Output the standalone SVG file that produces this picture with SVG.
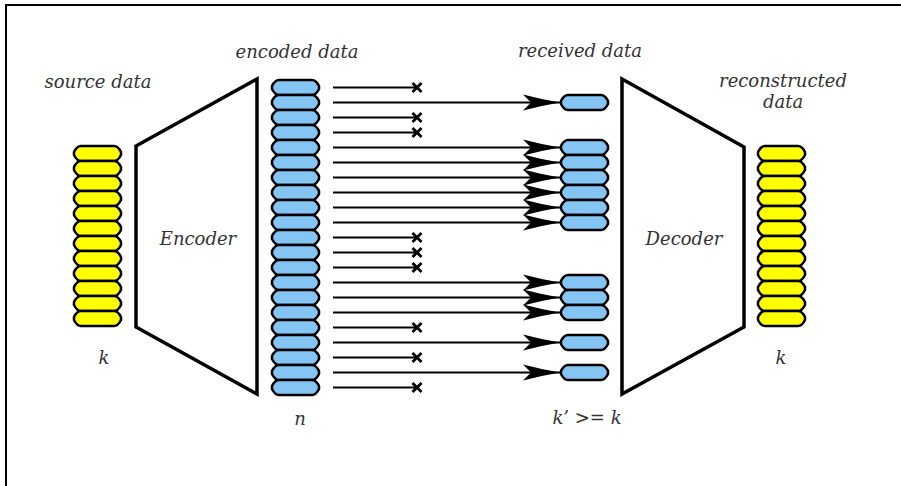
<svg xmlns="http://www.w3.org/2000/svg" xmlns:xlink="http://www.w3.org/1999/xlink" width="901" height="486" viewBox="0 0 901 486">
<style>
  .lbl { font-family: "DejaVu Serif", "Liberation Serif", serif; font-style: italic; font-size: 18px; fill: #333333; text-anchor: middle; }
  .box { fill: #ffffff; stroke: #000000; stroke-width: 3.5; stroke-linejoin: miter; }
  .blue { fill: #85c5f3; stroke: #000000; stroke-width: 2.5; stroke-linejoin: round; }
  .yellow { fill: #ffff00; stroke: #000000; stroke-width: 2.5; stroke-linejoin: round; }
  .lost { stroke: #000000; stroke-width: 2; fill: none; marker-end: url(#cross); }
  .ok { stroke: #000000; stroke-width: 2; fill: none; marker-end: url(#head); }
  .frame { stroke: #000000; stroke-width: 2; fill: none; }
</style>
<defs>
  <path id="cell" d="M7,0 H40 Q44,0 47,6 V9 Q44,15 40,15 H7 Q3,15 0,9 V6 Q3,0 7,0 Z"/>
  <marker id="head" markerUnits="userSpaceOnUse" markerWidth="40" markerHeight="20" refX="38" refY="10" orient="auto" overflow="visible">
    <path d="M38,10 Q20,7 1,2 L9,10 L1,18 Q20,13 38,10 Z" fill="#000000"/>
  </marker>
  <marker id="cross" markerUnits="userSpaceOnUse" markerWidth="14" markerHeight="14" refX="7" refY="7" orient="auto" overflow="visible">
    <path d="M2.5,2.5 L11.5,11.5 M11.5,2.5 L2.5,11.5" stroke="#000000" stroke-width="2.8" fill="none"/>
  </marker>
</defs>
<rect x="0" y="0" width="901" height="486" fill="#ffffff"/>
<path class="frame" d="M6,486 V5 H901"/>

<g id="source-data">
  <text class="lbl" x="98" y="88">source data</text>
  <use href="#cell" class="yellow" x="74" y="146"/>
  <use href="#cell" class="yellow" x="74" y="161"/>
  <use href="#cell" class="yellow" x="74" y="176"/>
  <use href="#cell" class="yellow" x="74" y="191"/>
  <use href="#cell" class="yellow" x="74" y="206"/>
  <use href="#cell" class="yellow" x="74" y="221"/>
  <use href="#cell" class="yellow" x="74" y="236"/>
  <use href="#cell" class="yellow" x="74" y="251"/>
  <use href="#cell" class="yellow" x="74" y="266"/>
  <use href="#cell" class="yellow" x="74" y="281"/>
  <use href="#cell" class="yellow" x="74" y="296"/>
  <use href="#cell" class="yellow" x="74" y="311"/>
  <text class="lbl" x="104" y="364">k</text>
</g>

<g id="encoder">
  <polygon class="box" points="136,146 257,79 257,394 136,327"/>
  <text class="lbl" x="198" y="245">Encoder</text>
</g>

<g id="encoded-data">
  <text class="lbl" x="297" y="58">encoded data</text>
  <use href="#cell" class="blue" x="272" y="80"/>
  <use href="#cell" class="blue" x="272" y="95"/>
  <use href="#cell" class="blue" x="272" y="110"/>
  <use href="#cell" class="blue" x="272" y="125"/>
  <use href="#cell" class="blue" x="272" y="140"/>
  <use href="#cell" class="blue" x="272" y="155"/>
  <use href="#cell" class="blue" x="272" y="170"/>
  <use href="#cell" class="blue" x="272" y="185"/>
  <use href="#cell" class="blue" x="272" y="200"/>
  <use href="#cell" class="blue" x="272" y="215"/>
  <use href="#cell" class="blue" x="272" y="230"/>
  <use href="#cell" class="blue" x="272" y="245"/>
  <use href="#cell" class="blue" x="272" y="260"/>
  <use href="#cell" class="blue" x="272" y="275"/>
  <use href="#cell" class="blue" x="272" y="290"/>
  <use href="#cell" class="blue" x="272" y="305"/>
  <use href="#cell" class="blue" x="272" y="320"/>
  <use href="#cell" class="blue" x="272" y="335"/>
  <use href="#cell" class="blue" x="272" y="350"/>
  <use href="#cell" class="blue" x="272" y="365"/>
  <use href="#cell" class="blue" x="272" y="380"/>
  <text class="lbl" x="300" y="425">n</text>
</g>

<g id="connectors">
  <line class="lost" x1="333" y1="87.5" x2="417" y2="87.5"/>
  <line class="ok" x1="333" y1="102.5" x2="560" y2="102.5"/>
  <line class="lost" x1="333" y1="117.5" x2="417" y2="117.5"/>
  <line class="lost" x1="333" y1="132.5" x2="417" y2="132.5"/>
  <line class="ok" x1="333" y1="147.5" x2="560" y2="147.5"/>
  <line class="ok" x1="333" y1="162.5" x2="560" y2="162.5"/>
  <line class="ok" x1="333" y1="177.5" x2="560" y2="177.5"/>
  <line class="ok" x1="333" y1="192.5" x2="560" y2="192.5"/>
  <line class="ok" x1="333" y1="207.5" x2="560" y2="207.5"/>
  <line class="ok" x1="333" y1="222.5" x2="560" y2="222.5"/>
  <line class="lost" x1="333" y1="237.5" x2="417" y2="237.5"/>
  <line class="lost" x1="333" y1="252.5" x2="417" y2="252.5"/>
  <line class="lost" x1="333" y1="267.5" x2="417" y2="267.5"/>
  <line class="ok" x1="333" y1="282.5" x2="560" y2="282.5"/>
  <line class="ok" x1="333" y1="297.5" x2="560" y2="297.5"/>
  <line class="ok" x1="333" y1="312.5" x2="560" y2="312.5"/>
  <line class="lost" x1="333" y1="327.5" x2="417" y2="327.5"/>
  <line class="ok" x1="333" y1="342.5" x2="560" y2="342.5"/>
  <line class="lost" x1="333" y1="357.5" x2="417" y2="357.5"/>
  <line class="ok" x1="333" y1="372.5" x2="560" y2="372.5"/>
  <line class="lost" x1="333" y1="387.5" x2="417" y2="387.5"/>
</g>

<g id="received-data">
  <text class="lbl" x="580" y="57">received data</text>
  <use href="#cell" class="blue" x="561" y="95"/>
  <use href="#cell" class="blue" x="561" y="140"/>
  <use href="#cell" class="blue" x="561" y="155"/>
  <use href="#cell" class="blue" x="561" y="170"/>
  <use href="#cell" class="blue" x="561" y="185"/>
  <use href="#cell" class="blue" x="561" y="200"/>
  <use href="#cell" class="blue" x="561" y="215"/>
  <use href="#cell" class="blue" x="561" y="275"/>
  <use href="#cell" class="blue" x="561" y="290"/>
  <use href="#cell" class="blue" x="561" y="305"/>
  <use href="#cell" class="blue" x="561" y="335"/>
  <use href="#cell" class="blue" x="561" y="365"/>
  <text class="lbl" x="587" y="424">k’ &gt;= k</text>
</g>

<g id="decoder">
  <polygon class="box" points="622,79 744,147 744,327 622,394"/>
  <text class="lbl" x="684" y="245">Decoder</text>
</g>

<g id="reconstructed-data">
  <text class="lbl" x="783" y="87">reconstructed</text>
  <text class="lbl" x="783" y="108">data</text>
  <use href="#cell" class="yellow" x="758" y="146"/>
  <use href="#cell" class="yellow" x="758" y="161"/>
  <use href="#cell" class="yellow" x="758" y="176"/>
  <use href="#cell" class="yellow" x="758" y="191"/>
  <use href="#cell" class="yellow" x="758" y="206"/>
  <use href="#cell" class="yellow" x="758" y="221"/>
  <use href="#cell" class="yellow" x="758" y="236"/>
  <use href="#cell" class="yellow" x="758" y="251"/>
  <use href="#cell" class="yellow" x="758" y="266"/>
  <use href="#cell" class="yellow" x="758" y="281"/>
  <use href="#cell" class="yellow" x="758" y="296"/>
  <use href="#cell" class="yellow" x="758" y="311"/>
  <text class="lbl" x="781" y="364">k</text>
</g>
</svg>
